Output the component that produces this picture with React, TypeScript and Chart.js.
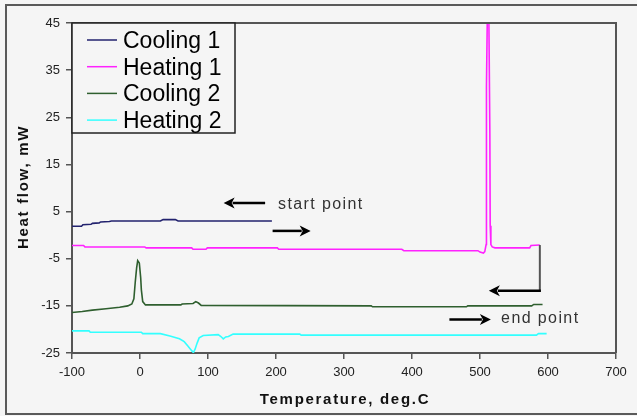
import React, { useEffect, useRef } from 'react';
import { Chart, registerables } from 'chart.js';

Chart.register(...registerables);

// ---- data ----
const seriesNames = ['Cooling 1', 'Heating 1', 'Cooling 2', 'Heating 2'];
const seriesColors = ['#22226e', '#ff22ff', '#2f5f2f', '#33ffff'];

const cooling1T = [-100, -86, -84, -72, -70, -60, -58, -45, -42, 0, 30, 34, 52, 56, 100, 194];
const cooling1Q = [1.9, 1.9, 2.2, 2.3, 2.5, 2.6, 2.8, 2.9, 3.0, 3.0, 3.0, 3.3, 3.3, 3.0, 3.0, 3.0];

const heating1T = [-100, -83, -81, 7, 9, 76, 78, 97, 99, 202, 204, 385, 388, 497, 500, 505, 507, 509, 509.5, 511.5, 512.5, 514.5, 515, 516, 518, 522, 573, 575, 588];
const heating1Q = [-2.2, -2.2, -2.5, -2.5, -2.7, -2.7, -3.0, -3.0, -2.7, -2.7, -3.0, -3.0, -3.3, -3.3, -3.6, -3.8, -3.5, -2.0, 31.6, 55, 55, 21.5, 2.0, -2.0, -2.5, -2.7, -2.7, -2.2, -2.1];

const cooling2T = [-100, -85, -70, -50, -30, -18, -12, -9, -7, -5, -3.4, -1, 1, 2, 4, 8, 60, 62, 78, 82, 86, 90, 340, 342, 480, 482, 576, 579, 592];
const cooling2Q = [-16.4, -16.2, -15.9, -15.6, -15.3, -15.0, -14.6, -13.5, -10, -7, -5.4, -5.9, -9, -11.6, -14.1, -14.8, -14.8, -14.6, -14.5, -14.1, -14.4, -14.9, -15.0, -15.2, -15.2, -15.0, -15.0, -14.7, -14.7];

const heating2T = [-100, -75, -73, 2, 4, 30, 44, 58, 65, 71, 76, 78.5, 81, 84, 87, 93, 115, 119, 122.5, 126, 130, 137, 235, 237, 583, 586, 598];
const heating2Q = [-20.3, -20.3, -20.6, -20.6, -20.9, -20.9, -21.4, -22.0, -22.6, -23.6, -24.5, -24.9, -24.2, -22.9, -21.8, -21.3, -21.1, -21.5, -22.0, -21.6, -21.5, -21.0, -21.0, -21.2, -21.2, -20.9, -20.9];

const xTitle = 'Temperature, deg.C';
const yTitle = 'Heat flow, mW';
const xMin = -100, xMax = 700, xStep = 100;
const yMin = -25, yMax = 45, yStep = 10;

// annotation texts and their anchor points in data units
const startLabel = 'start point';
const endLabel = 'end point';
const startLabelAt = [203, 5.6];
const endLabelAt = [531, -18.6];
const startArrow = [184, 6.8, 123, 6.8];
const returnArrow = [195, 0.9, 251, 0.9];
const endArrow = [455, -17.9, 516, -17.9];
const turnArrow = [588, -2.1, 588, -11.8, 513, -11.8];

const FONT = '"Liberation Sans", Arial, sans-serif';

function toXY(t: number[], q: number[]) {
  return t.map((x, i) => ({ x, y: q[i] }));
}

function drawArrow(ctx: CanvasRenderingContext2D, x1: number, y1: number, x2: number, y2: number) {
  const ang = Math.atan2(y2 - y1, x2 - x1);
  const head = 11;
  const hw = 5.5;
  const bx = x2 - Math.cos(ang) * head;
  const by = y2 - Math.sin(ang) * head;
  ctx.save();
  ctx.strokeStyle = '#000';
  ctx.fillStyle = '#000';
  ctx.lineWidth = 2.5;
  ctx.beginPath();
  ctx.moveTo(x1, y1);
  ctx.lineTo(bx + Math.cos(ang) * 2, by + Math.sin(ang) * 2);
  ctx.stroke();
  ctx.beginPath();
  ctx.moveTo(x2, y2);
  ctx.lineTo(bx - Math.sin(ang) * hw, by + Math.cos(ang) * hw);
  ctx.lineTo(bx + Math.cos(ang) * 3, by + Math.sin(ang) * 3);
  ctx.lineTo(bx + Math.sin(ang) * hw, by - Math.cos(ang) * hw);
  ctx.closePath();
  ctx.fill();
  ctx.restore();
}

const decorPlugin = {
  id: 'decor',
  beforeDraw(chart: any) {
    const ctx = chart.ctx as CanvasRenderingContext2D;
    ctx.save();
    ctx.fillStyle = '#f5f5f5';
    ctx.fillRect(0, 0, chart.width, chart.height);
    ctx.strokeStyle = '#5a5a5a';
    ctx.lineWidth = 2;
    ctx.strokeRect(6, 5, chart.width + 10, chart.height - 7);
    ctx.restore();
  },
  afterDraw(chart: any) {
    const ctx = chart.ctx as CanvasRenderingContext2D;
    const ca = chart.chartArea;
    const xs = chart.scales.x;
    const ys = chart.scales.y;
    const px = (v: number) => xs.getPixelForValue(v);
    const py = (v: number) => ys.getPixelForValue(v);

    ctx.save();
    // top and right frame of plot area
    ctx.strokeStyle = '#555';
    ctx.lineWidth = 2;
    ctx.beginPath();
    ctx.moveTo(ca.left, ca.top);
    ctx.lineTo(ca.right, ca.top);
    ctx.lineTo(ca.right, ca.bottom);
    ctx.stroke();

    // axis titles
    ctx.fillStyle = '#111';
    ctx.font = 'bold 15px ' + FONT;
    (ctx as any).letterSpacing = '1.7px';
    ctx.textAlign = 'center';
    ctx.textBaseline = 'middle';
    ctx.fillText(xTitle, (ca.left + ca.right) / 2 + 1, 400);
    ctx.save();
    ctx.translate(24, (ca.top + ca.bottom) / 2);
    ctx.rotate(-Math.PI / 2);
    ctx.fillText(yTitle, 1, 0);
    ctx.restore();
    (ctx as any).letterSpacing = '0px';

    // legend
    const lx = ca.left, ly = ca.top, lw = 163, lh = 110;
    ctx.fillStyle = '#f5f5f5';
    ctx.fillRect(lx, ly, lw, lh);
    ctx.strokeStyle = '#222';
    ctx.lineWidth = 1.5;
    ctx.strokeRect(lx, ly, lw, lh);
    ctx.font = '23px ' + FONT;
    ctx.textAlign = 'left';
    ctx.textBaseline = 'alphabetic';
    chart.data.datasets.forEach((ds: any, i: number) => {
      const y = ly + 17 + i * 26.7;
      ctx.strokeStyle = ds.borderColor;
      ctx.lineWidth = 1.5;
      ctx.beginPath();
      ctx.moveTo(lx + 15, y);
      ctx.lineTo(lx + 45, y);
      ctx.stroke();
      ctx.fillStyle = '#000';
      ctx.fillText(ds.label, lx + 51, y + 8);
    });

    // annotations
    ctx.font = '16px ' + FONT;
    (ctx as any).letterSpacing = '1.4px';
    ctx.fillStyle = '#333';
    ctx.fillText(startLabel, px(startLabelAt[0]), py(startLabelAt[1]));
    ctx.fillText(endLabel, px(endLabelAt[0]), py(endLabelAt[1]));
    (ctx as any).letterSpacing = '0px';

    drawArrow(ctx, px(startArrow[0]), py(startArrow[1]), px(startArrow[2]), py(startArrow[3]));
    drawArrow(ctx, px(returnArrow[0]), py(returnArrow[1]), px(returnArrow[2]), py(returnArrow[3]));
    drawArrow(ctx, px(endArrow[0]), py(endArrow[1]), px(endArrow[2]), py(endArrow[3]));

    ctx.strokeStyle = '#555';
    ctx.lineWidth = 2;
    ctx.beginPath();
    ctx.moveTo(px(turnArrow[0]), py(turnArrow[1]));
    ctx.lineTo(px(turnArrow[2]), py(turnArrow[3]) + 1);
    ctx.stroke();
    drawArrow(ctx, px(turnArrow[2]) + 1, py(turnArrow[3]), px(turnArrow[4]), py(turnArrow[5]));
    ctx.restore();
  },
};

export default function App() {
  const ref = useRef<HTMLCanvasElement | null>(null);

  useEffect(() => {
    document.body.style.margin = '0';
    const canvas = ref.current;
    if (!canvas) return;
    const series = [
      toXY(cooling1T, cooling1Q),
      toXY(heating1T, heating1Q),
      toXY(cooling2T, cooling2Q),
      toXY(heating2T, heating2Q),
    ];
    const chart = new Chart(canvas, {
      type: 'line',
      data: {
        datasets: series.map((d, i) => ({
          label: seriesNames[i],
          data: d,
          borderColor: seriesColors[i],
          backgroundColor: seriesColors[i],
          borderWidth: 1.6,
          pointRadius: 0,
          tension: 0,
          fill: false,
        })),
      },
      options: {
        animation: false,
        responsive: false,
        devicePixelRatio: 1,
        parsing: true,
        layout: { padding: { left: 0, top: 23, right: 21, bottom: 0 } },
        plugins: { legend: { display: false }, tooltip: { enabled: false } },
        scales: {
          x: {
            type: 'linear',
            min: xMin,
            max: xMax,
            ticks: { stepSize: xStep, font: { family: FONT, size: 13 }, color: '#222', padding: 6, maxRotation: 0 },
            grid: { drawOnChartArea: false, tickLength: 6, color: '#555', lineWidth: 1.5 },
            border: { color: '#555', width: 2 },
            afterFit: (s: any) => { s.height = 63; },
          },
          y: {
            type: 'linear',
            min: yMin,
            max: yMax,
            ticks: { stepSize: yStep, font: { family: FONT, size: 13 }, color: '#222', padding: 6 },
            grid: { drawOnChartArea: false, tickLength: 6, color: '#555', lineWidth: 1.5 },
            border: { color: '#555', width: 2 },
            afterFit: (s: any) => { s.width = 72; },
          },
        },
      } as any,
      plugins: [decorPlugin],
    });
    return () => chart.destroy();
  }, []);

  return (
    <div style={{ width: 637, height: 416 }}>
      <canvas ref={ref} width={637} height={416} style={{ display: 'block', width: 637, height: 416 }} />
    </div>
  );
}
